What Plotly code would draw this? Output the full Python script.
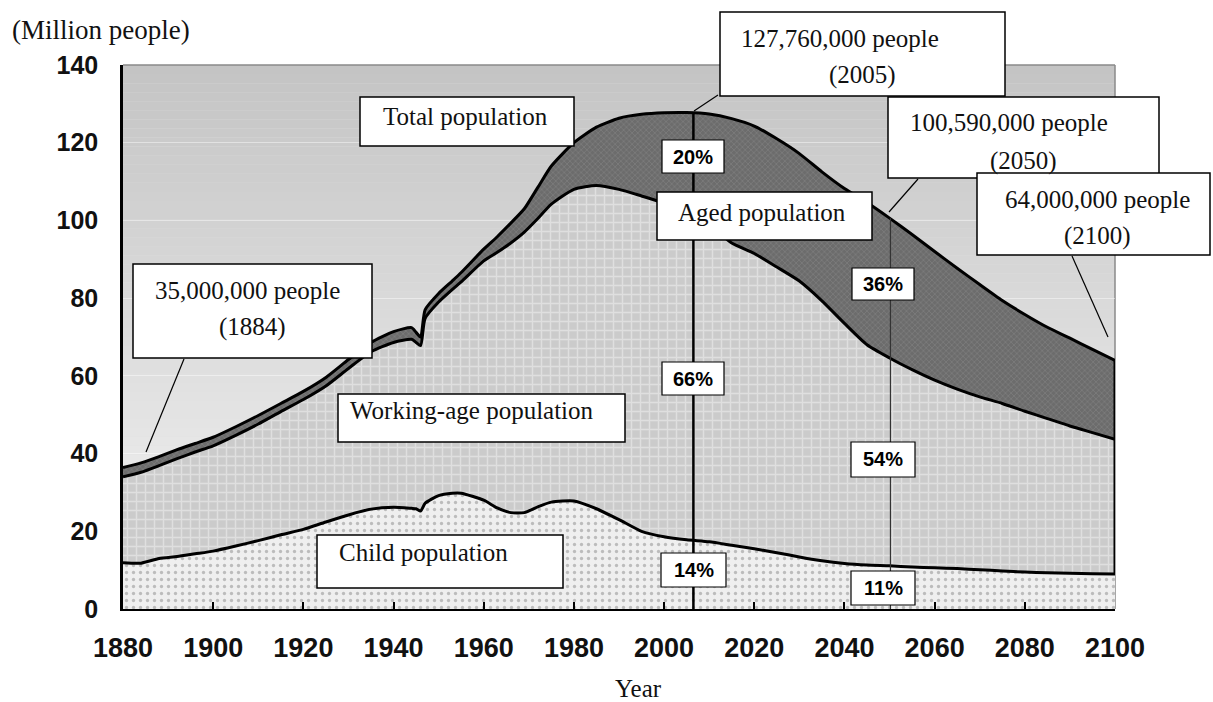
import plotly.graph_objects as go

# ---------------- data ----------------
years = [1880, 1884, 1888, 1892, 1896, 1900, 1905, 1910, 1915, 1920, 1925, 1930,
         1935, 1940, 1944, 1945, 1946, 1947, 1950, 1953, 1955, 1960, 1963, 1966,
         1969, 1972, 1975, 1980, 1985, 1990, 1995, 2000, 2005, 2010, 2015, 2020,
         2025, 2030, 2035, 2040, 2045, 2050, 2055, 2060, 2065, 2070, 2075, 2080,
         2085, 2090, 2095, 2100]

# child population (million people)
child = [11.9, 11.8, 13.0, 13.5, 14.2, 14.9, 16.2, 17.6, 19.1, 20.5, 22.4, 24.2,
         25.7, 26.2, 25.9, 25.8, 25.2, 27.2, 29.2, 29.8, 29.8, 28.0, 26.0, 24.8,
         24.8, 26.3, 27.5, 27.8, 25.8, 23.0, 20.0, 18.6, 17.8, 17.3, 16.4, 15.5,
         14.5, 13.4, 12.4, 11.7, 11.3, 11.1, 10.8, 10.6, 10.4, 10.1, 9.8, 9.5,
         9.3, 9.2, 9.1, 9.0]

# working-age population (million people)
working = [22.1, 23.4, 23.9, 25.2, 26.2, 27.1, 28.5, 30.0, 31.7, 33.4, 35.0, 37.7,
           40.5, 42.4, 43.5, 42.8, 42.6, 47.6, 49.8, 52.4, 54.4, 61.6, 65.8, 69.4,
           72.2, 74.2, 76.7, 80.2, 83.2, 85.0, 86.3, 85.9, 84.4, 81.7, 77.8, 76.0,
           73.5, 71.0, 66.9, 61.8, 56.7, 53.5, 50.8, 48.3, 46.2, 44.5, 43.1, 41.4,
           39.7, 37.9, 36.3, 34.7]

# aged population (million people)
aged = [2.4, 2.4, 2.3, 2.3, 2.2, 2.2, 2.2, 2.2, 2.1, 2.1, 2.2, 2.3,
        2.4, 2.8, 3.0, 2.6, 2.2, 2.2, 2.2, 2.2, 2.4, 3.0, 4.0, 5.1,
        6.0, 8.0, 9.8, 12.0, 15.0, 18.3, 21.0, 23.2, 25.56, 28.4, 32.0, 32.8,
        33.0, 32.8, 33.2, 34.7, 36.6, 35.99, 34.8, 33.1, 31.1, 28.9, 26.5, 24.9,
        23.5, 22.6, 21.4, 20.3]

x_tick_vals = [1880, 1900, 1920, 1940, 1960, 1980, 2000, 2020, 2040, 2060, 2080, 2100]
y_tick_vals = [0, 20, 40, 60, 80, 100, 120, 140]

marker_years = [2005, 2050]          # years marked with vertical lines
share_labels_2005 = ["20%", "66%", "14%"]
share_labels_2050 = ["36%", "54%", "11%"]
series_labels = ["Total population", "Aged population",
                 "Working-age population", "Child population"]
callout_labels = [("127,760,000 people", "(2005)"),
                  ("100,590,000 people", "(2050)"),
                  ("64,000,000 people", "(2100)"),
                  ("35,000,000 people", "(1884)")]

# ---------------- layout geometry ----------------
FIG_W, FIG_H = 1213, 702
ML, MR, MT, MB = 123, 98, 65, 93
PW = FIG_W - ML - MR
PH = FIG_H - MT - MB


def fx(p):
    return (p - ML) / PW


def fy(p):
    return (FIG_H - MB - p) / PH


SERIF = "Liberation Serif"
SANS = "Liberation Sans"

fig = go.Figure()

line_style = dict(color="black", width=3, shape="spline", smoothing=0.6)

fig.add_trace(go.Scatter(
    x=years, y=child, stackgroup="pop", mode="lines", line=line_style,
    fillcolor="#eeeeee",
    fillpattern=dict(shape=".", bgcolor="#efefef", fgcolor="#8a8a8a",
                     size=7, solidity=0.18),
    hoverinfo="skip", showlegend=False))
fig.add_trace(go.Scatter(
    x=years, y=working, stackgroup="pop", mode="lines", line=line_style,
    fillcolor="#d0d0d0",
    fillpattern=dict(shape="+", bgcolor="#cbcbcb", fgcolor="#f4f4f4",
                     size=9, solidity=0.3),
    hoverinfo="skip", showlegend=False))
fig.add_trace(go.Scatter(
    x=years, y=aged, stackgroup="pop", mode="lines", line=line_style,
    fillcolor="#707070",
    fillpattern=dict(shape="x", bgcolor="#6c6c6c", fgcolor="#9a9a9a",
                     size=4, solidity=0.25),
    hoverinfo="skip", showlegend=False))

totals = [c + w + a for c, w, a in zip(child, working, aged)]

# right closing edge at 2100
fig.add_trace(go.Scatter(
    x=[years[-1], years[-1]], y=[child[-1], totals[-1]], mode="lines",
    line=dict(color="black", width=3), cliponaxis=False,
    hoverinfo="skip", showlegend=False))

# vertical marker lines (2005 drawn where the reference draws it)
VLINE_X = {2005: 2006.5, 2050: 2050.2}
i05 = years.index(marker_years[0])
i50 = years.index(marker_years[1])
fig.add_trace(go.Scatter(
    x=[VLINE_X[2005]] * 2, y=[0, totals[i05]], mode="lines",
    line=dict(color="black", width=2.5), hoverinfo="skip", showlegend=False))
fig.add_trace(go.Scatter(
    x=[VLINE_X[2050]] * 2, y=[0, totals[i50]], mode="lines",
    line=dict(color="#333333", width=1.2), hoverinfo="skip", showlegend=False))

shapes = []
annotations = []

# gradient background
N = 60
top_c, bot_c = 196, 245
for i in range(N):
    t = (i + 0.5) / N
    v = int(round(bot_c + (top_c - bot_c) * t))
    shapes.append(dict(type="rect", xref="x domain", yref="y domain",
                       x0=0, x1=1, y0=i / N, y1=(i + 1) / N,
                       fillcolor=f"rgb({v},{v},{v})", line=dict(width=0),
                       layer="below"))

# gray top and right frame
shapes.append(dict(type="line", xref="paper", yref="paper", x0=0, x1=1, y0=1, y1=1,
                   line=dict(color="#8a8a8a", width=1.5), layer="above"))
shapes.append(dict(type="line", xref="paper", yref="paper", x0=1, x1=1, y0=0, y1=1,
                   line=dict(color="#8a8a8a", width=1.5), layer="below"))


def box(x0, y0, x1, y1, lw=1.5):
    shapes.append(dict(type="rect", xref="paper", yref="paper",
                       x0=fx(x0), x1=fx(x1), y0=fy(y1), y1=fy(y0),
                       fillcolor="white", line=dict(color="black", width=lw),
                       layer="above"))


def text(s, cx, cy, font):
    annotations.append(dict(text=s, xref="paper", yref="paper",
                            x=fx(cx), y=fy(cy), xanchor="center", yanchor="middle",
                            showarrow=False, font=font))


def pointer(x0, y0, x1, y1):
    shapes.append(dict(type="line", xref="paper", yref="paper",
                       x0=fx(x0), y0=fy(y0), x1=fx(x1), y1=fy(y1),
                       line=dict(color="black", width=1.2), layer="above"))


serif_font = dict(family=SERIF, size=25, color="#111111")
pct_font = dict(family=SANS, size=20, color="black", weight="bold")

# pointer lines
pointer(718, 95, 694, 111)
pointer(918, 179, 889, 212)
pointer(1072, 256, 1108, 337)
pointer(184, 359, 146, 452)

# series label boxes
box(360, 97, 574, 146)
text(series_labels[0], 465, 116, serif_font)
box(657, 192, 872, 240)
text(series_labels[1], 762, 212, serif_font)
box(338, 394, 625, 442)
text(series_labels[2], 472, 410, serif_font)
box(317, 535, 563, 588)
text(series_labels[3], 423, 552, serif_font)

# callout boxes
box(720, 12, 1005, 96)
text(callout_labels[0][0], 840, 38, serif_font)
text(callout_labels[0][1], 862, 75, serif_font)
box(888, 97, 1159, 178)
text(callout_labels[1][0], 1009, 123, serif_font)
text(callout_labels[1][1], 1023, 161, serif_font)
box(977, 173, 1210, 255)
text(callout_labels[2][0], 1097, 199, serif_font)
text(callout_labels[2][1], 1097, 236, serif_font)
box(133, 264, 372, 358)
text(callout_labels[3][0], 247, 290, serif_font)
text(callout_labels[3][1], 252, 327, serif_font)

# share boxes
for lab, (x0, y0, x1, y1) in zip(share_labels_2005,
                                 [(662, 140, 724, 173), (662, 362, 724, 395),
                                  (661, 553, 726, 587)]):
    box(x0, y0, x1, y1, lw=1.2)
    text(lab, (x0 + x1) / 2, (y0 + y1) / 2, pct_font)
for lab, (x0, y0, x1, y1) in zip(share_labels_2050,
                                 [(852, 268, 914, 300), (851, 442, 915, 477),
                                  (851, 571, 915, 605)]):
    box(x0, y0, x1, y1, lw=1.2)
    text(lab, (x0 + x1) / 2, (y0 + y1) / 2, pct_font)

# axis titles
annotations.append(dict(text="(Million people)", xref="paper", yref="paper",
                        x=fx(10), y=fy(30), xanchor="left", yanchor="middle",
                        showarrow=False, font=dict(family=SERIF, size=27, color="#111111")))
annotations.append(dict(text="Year", xref="paper", yref="paper",
                        x=fx(638), y=fy(688), xanchor="center", yanchor="middle",
                        showarrow=False, font=dict(family=SERIF, size=25, color="#111111")))

fig.update_layout(
    width=FIG_W, height=FIG_H,
    margin=dict(l=ML, r=MR, t=MT, b=MB, pad=0),
    paper_bgcolor="white", plot_bgcolor="#e0e0e0",
    shapes=shapes, annotations=annotations,
    showlegend=False,
    xaxis=dict(range=[1880, 2100], tickvals=x_tick_vals,
               ticktext=[str(v) for v in x_tick_vals],
               ticks="inside", ticklen=7, tickwidth=1.5, tickcolor="black",
               showline=True, linecolor="black", linewidth=2,
               showgrid=False, zeroline=False,
               tickfont=dict(family=SANS, size=27, color="#111111", weight="bold"),
               ticklabelstandoff=14),
    yaxis=dict(range=[0, 140], tickvals=y_tick_vals,
               ticktext=[str(v) for v in y_tick_vals],
               ticks="", showline=True, linecolor="black", linewidth=2.5,
               showgrid=True, gridcolor="rgba(255,255,255,0.45)", gridwidth=1,
               zeroline=False,
               tickfont=dict(family=SANS, size=25, color="#111111", weight="bold"),
               ticklabelstandoff=17),
)

fig.write_html("out.html",
               config={"displayModeBar": False},
               post_script="document.body.style.margin='0';document.body.style.overflow='hidden';")
